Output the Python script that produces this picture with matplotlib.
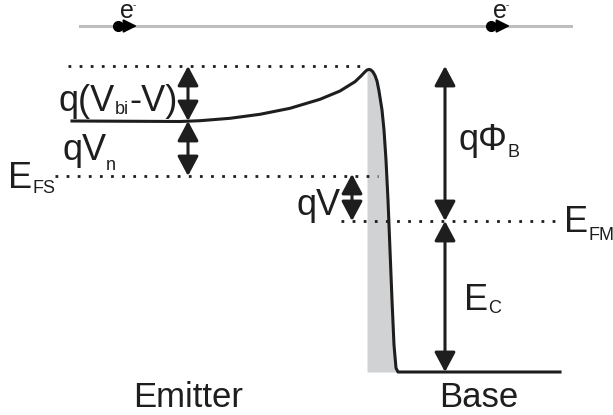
"""plot.py - band diagram of a metal-base (Schottky) emitter/base junction"""

import matplotlib.pyplot as plt
import numpy as np
from matplotlib.patches import FancyArrowPatch


######################
# Data (drawing units = pixels of the 613x415 picture, y downwards)
######################

# conduction band edge, emitter -> barrier peak -> base
band_x = [72, 180, 200, 230, 260, 290, 320, 340, 355, 361, 365, 367, 369,
          371, 373, 375, 377, 379, 382, 384, 386, 388, 390, 392, 394, 396,
          398, 560]
band_y = [121, 121.5, 120.7, 118.3, 114.3, 108.3, 99.3, 91, 81.7, 76, 71.8,
          70, 69.4, 70, 72, 75.5, 81, 91, 110, 130, 160, 200, 250, 300, 345,
          368, 372, 372]

# dotted energy levels: (x start, x end, y)
lvl_top = (68, 368, 66)
lvl_efs = (55, 378, 176)
lvl_efm = (341, 556, 221)

# double arrows: (x, y top, y bottom)
arrows = [(188, 66, 121), (188, 121, 176), (352, 174, 221),
          (445, 66, 221), (445, 221, 372)]

# electrons on the grey top line
wire = (80, 571, 26)
electron_x = [118, 491]

grey_left = 367
base_level = 372

ink = '#1e1e1e'
plt.rcParams['font.family'] = 'Liberation Sans'


def chain(ax, r, x, y, parts):
    """put text pieces one after another (main text, subscripts)"""
    for s, size, dy in parts:
        t = ax.text(x, y + dy, s, fontsize=size, ha='left', va='baseline',
                    color=ink)
        x = x + t.get_window_extent(renderer=r).width


def main():
    fig = plt.figure(figsize=(6.13, 4.15), dpi=100)
    ax = fig.add_axes([0, 0, 1, 1])
    ax.set_xlim(0, 613)
    ax.set_ylim(415, 0)
    ax.axis('off')
    r = fig.canvas.get_renderer()

    bx = np.array(band_x, dtype=float)
    by = np.array(band_y, dtype=float)

    # depletion (grey) region under the barrier
    m = bx >= grey_left
    fx = np.concatenate([[grey_left], bx[m]])
    fy = np.concatenate([[by[m][0]], by[m]])
    ax.fill_between(fx, fy, base_level, color='#d1d2d4', lw=0, zorder=1)

    ax.plot(bx, by, color=ink, lw=2.2, solid_joinstyle='round', zorder=3)

    # dotted levels
    for x0, x1, y in (lvl_top, lvl_efs, lvl_efm):
        ax.plot([x0, x1], [y, y], color=ink, lw=2, ls=(0, (1, 3)),
                dash_capstyle='butt', zorder=2)

    for x, y0, y1 in arrows:
        ax.add_patch(FancyArrowPatch((x, y0), (x, y1),
                     arrowstyle='<|-|>,head_length=12,head_width=6.4',
                     mutation_scale=1, lw=2.2, color=ink,
                     shrinkA=0, shrinkB=0, zorder=4))

    # electrons moving along the top line
    ax.plot([wire[0], wire[1]], [wire[2], wire[2]], color='#bcbec0', lw=2.2,
            zorder=1)
    for ex in electron_x:
        ax.plot(ex, wire[2], 'o', ms=7, color='black', zorder=5)
        ax.add_patch(FancyArrowPatch((ex, wire[2]), (ex + 19, wire[2]),
                     arrowstyle='-|>,head_length=8,head_width=4',
                     mutation_scale=1, lw=1.5, color='black',
                     shrinkA=0, shrinkB=0, zorder=5))
        ax.text(ex + 2, 18, 'e', fontsize=18, ha='left', va='baseline',
                color=ink)
        ax.text(ex + 15, 5, '-', fontsize=7, ha='left', va='center',
                color=ink)

    # labels
    chain(ax, r, 59, 111, [('q(V', 26, 0), ('bi', 13, 3), ('-V)', 26, 0)])
    chain(ax, r, 62, 160, [('qV', 26, 0), ('n', 13, 10)])
    chain(ax, r, 8, 188, [('E', 26, 0), ('FS', 13, 5)])
    chain(ax, r, 296, 215, [('qV', 26, 0)])
    chain(ax, r, 459, 150, [('q\u03a6', 26, 0), ('B', 13, 7)])
    chain(ax, r, 564, 232, [('E', 26, 0), ('FM', 13, 8)])
    chain(ax, r, 464, 310, [('E', 26, 0), ('C', 13, 3)])

    ax.text(188, 407, 'Emitter', fontsize=25, ha='center', va='baseline',
            color=ink)
    ax.text(479, 407, 'Base', fontsize=25, ha='center', va='baseline',
            color=ink)

    fig.savefig('out.png', dpi=100)


if __name__ == "__main__":
    main()
